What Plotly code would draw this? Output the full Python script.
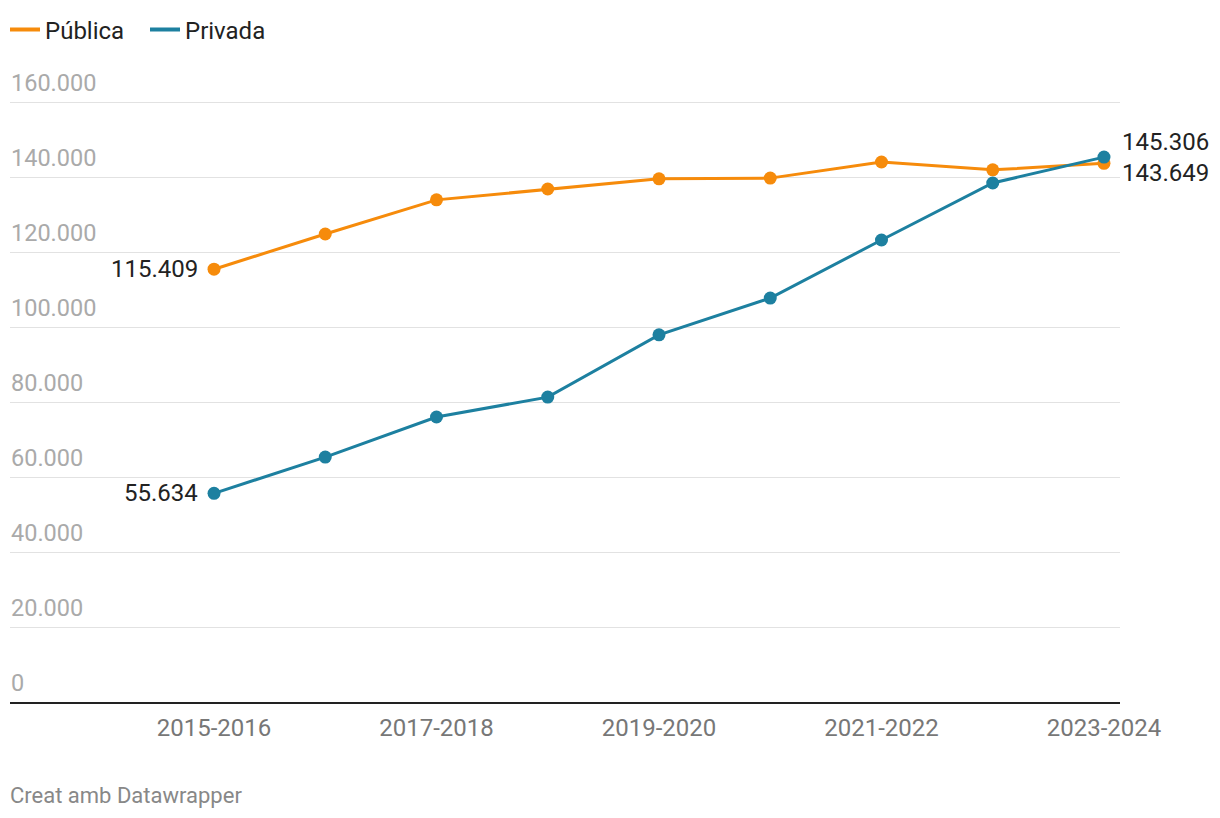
import plotly.graph_objects as go

categories = ["2015-2016", "2016-2017", "2017-2018", "2018-2019", "2019-2020",
              "2020-2021", "2021-2022", "2022-2023", "2023-2024"]
publica = [115409, 124800, 133900, 136800, 139500, 139700, 144000, 141900, 143649]
privada = [55634, 65300, 76000, 81300, 97900, 107700, 123200, 138400, 145306]
tick_labels = ["2015-2016", "2017-2018", "2019-2020", "2021-2022", "2023-2024"]
y_ticks = [0, 20000, 40000, 60000, 80000, 100000, 120000, 140000, 160000]
y_tick_text = ["0", "20.000", "40.000", "60.000", "80.000", "100.000", "120.000", "140.000", "160.000"]

ORANGE = "#f68b0b"
BLUE = "#1d80a0"
FONT = "Roboto"

def fmt(v):
    return f"{v:,}".replace(",", ".")

fig = go.Figure()
fig.add_trace(go.Scatter(x=categories, y=publica, name="Pública", mode="lines+markers", showlegend=False,
                         line=dict(color=ORANGE, width=3), marker=dict(size=13, color=ORANGE)))
fig.add_trace(go.Scatter(x=categories, y=privada, name="Privada", mode="lines+markers", showlegend=False,
                         line=dict(color=BLUE, width=3), marker=dict(size=13, color=BLUE)))
# legend entries (line only)
fig.add_trace(go.Scatter(x=[None], y=[None], name="Pública", mode="lines",
                         line=dict(color=ORANGE, width=4)))
fig.add_trace(go.Scatter(x=[None], y=[None], name="Privada", mode="lines",
                         line=dict(color=BLUE, width=4)))

lab_font = dict(size=24, color="#222", family=FONT)
ann = [
    dict(x=categories[0], y=publica[0], text=fmt(publica[0]), xanchor="right", yanchor="middle",
         xshift=-14, showarrow=False, font=lab_font),
    dict(x=categories[0], y=privada[0], text=fmt(privada[0]), xanchor="right", yanchor="middle",
         xshift=-14, showarrow=False, font=lab_font),
    dict(x=categories[-1], y=privada[-1], text=fmt(privada[-1]), xanchor="left", yanchor="middle",
         xshift=16, yshift=15, showarrow=False, font=lab_font),
    dict(x=categories[-1], y=publica[-1], text=fmt(publica[-1]), xanchor="left", yanchor="middle",
         xshift=16, yshift=-10, showarrow=False, font=lab_font),
    dict(xref="paper", yref="paper", x=-0.002, y=-0.1458, text="Creat amb Datawrapper",
         xanchor="left", yanchor="middle", showarrow=False,
         font=dict(size=22, color="#888", family=FONT)),
]

fig.update_layout(
    width=1220, height=818,
    margin=dict(l=10, r=100, t=64, b=116, autoexpand=False),
    paper_bgcolor="white", plot_bgcolor="white",
    font=dict(family=FONT),
    showlegend=True,
    legend=dict(orientation="h", x=-0.0045, y=1.0533, xanchor="left", yanchor="middle",
                font=dict(size=24, color="#222", family=FONT), entrywidth=95,
                bgcolor="rgba(0,0,0,0)"),
    annotations=ann,
    xaxis=dict(type="category", range=[-1.834, 8.144], tickmode="array", tickvals=tick_labels,
               ticktext=tick_labels, showgrid=False, showline=True, linecolor="#222", linewidth=2,
               ticks="", tickfont=dict(size=24, color="#777", family=FONT), zeroline=False,
               ticklabelstandoff=3, automargin=False),
    yaxis=dict(range=[0, 170133], tickmode="array", tickvals=y_ticks, ticktext=y_tick_text,
               ticklabelposition="inside top", showgrid=True, gridcolor="#e2e2e2", gridwidth=1,
               zeroline=False, ticks="", tickfont=dict(size=23.5, color="#aaa", family=FONT),
               ticklabelshift=-3, ticklabelstandoff=-2, automargin=False),
)

fig.write_html("out.html")
